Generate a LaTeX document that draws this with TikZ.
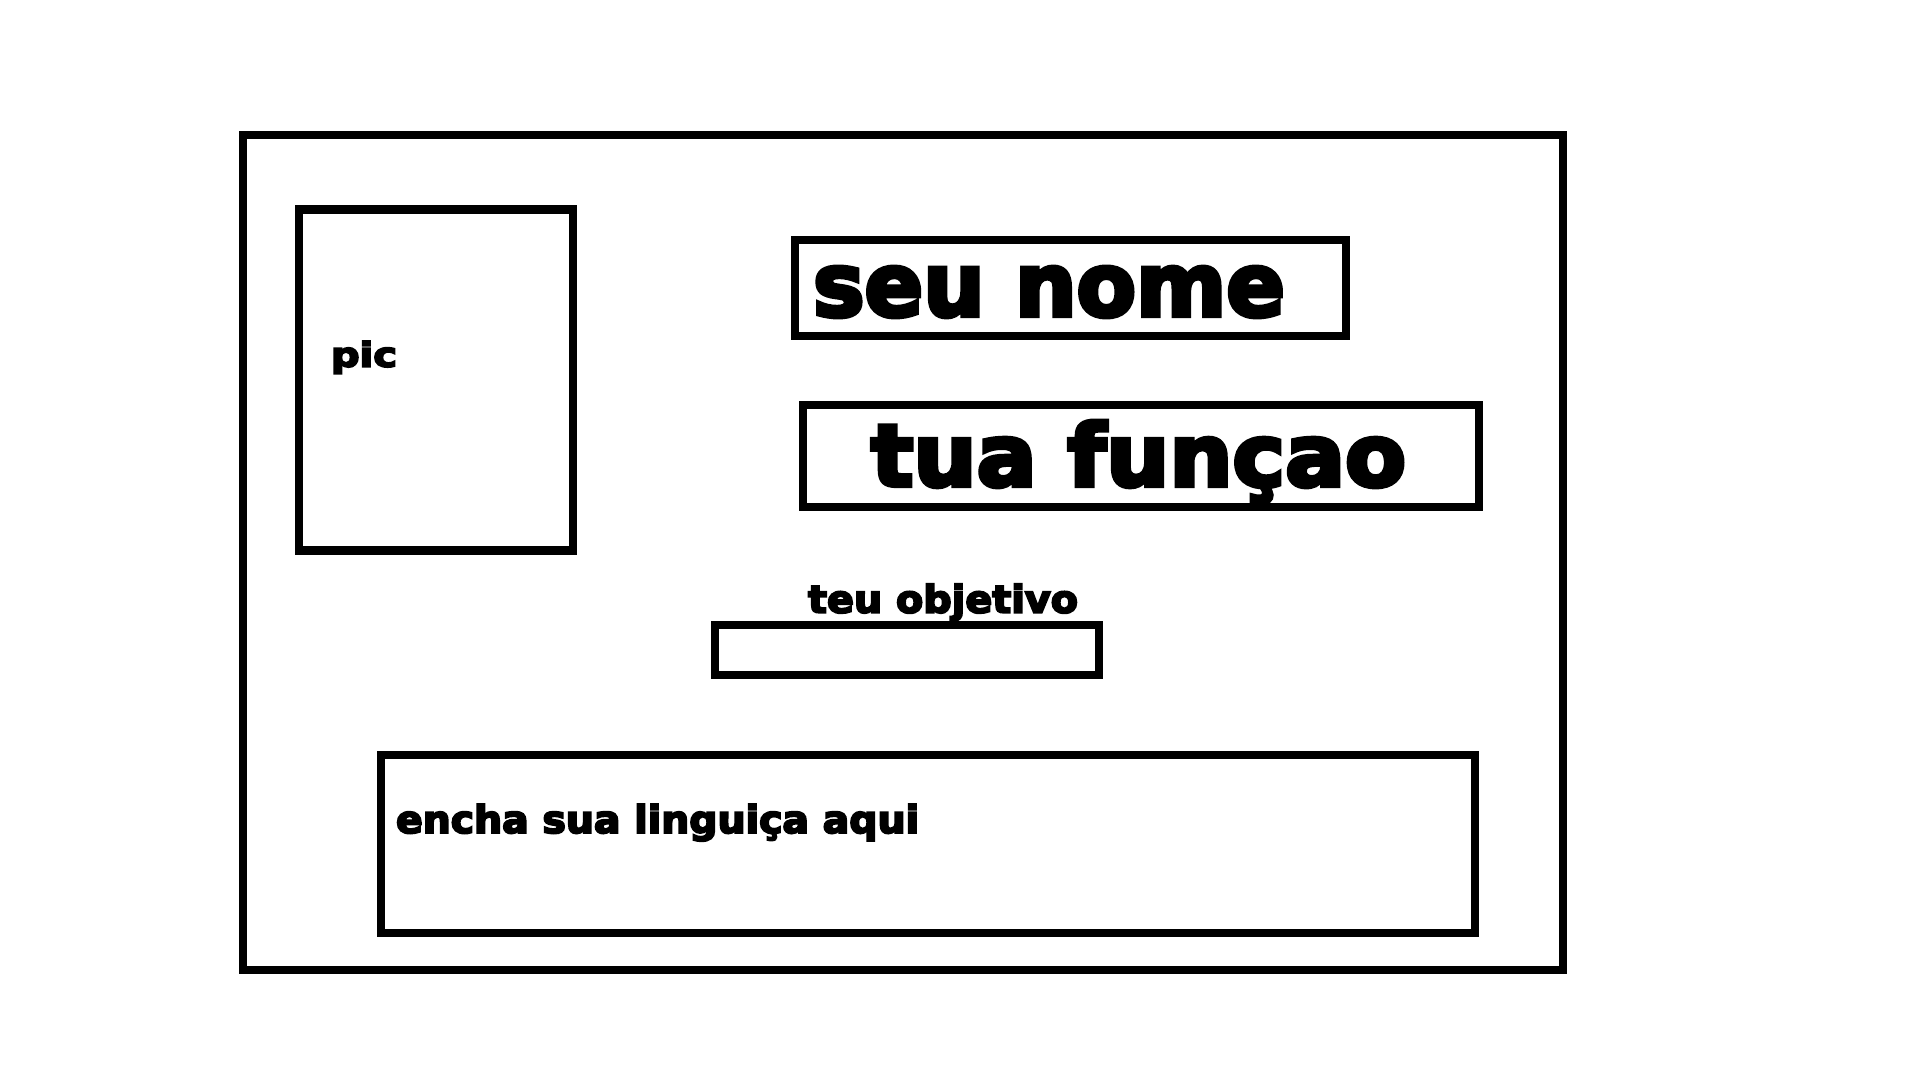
\documentclass[tikz,border=0pt]{standalone}
\usepackage{fontspec}
\usepackage{graphicx}
\newfontfamily\heavy{DejaVu Sans}[UprightFont=* Bold, FakeBold=5]
\begin{document}
\begin{tikzpicture}[x=1pt,y=-1pt,
  box/.style={draw=black, line width=8.5pt, inner sep=0pt, outer sep=0pt, rectangle, fill=none},
  lbl/.style={inner sep=0pt, outer sep=0pt, anchor=base west, text=black}]
\useasboundingbox[fill=white] (0,0) rectangle (1920,1080);
% boxes
\node[box, minimum width=1320pt, minimum height=835pt] (card) at (903,552.5) {};
\node[box, minimum width=274pt, minimum height=341pt] (pic) at (436,380) {};
\node[box, minimum width=551pt, minimum height=96pt] (nome) at (1070.5,288) {};
\node[box, minimum width=676pt, minimum height=102pt] (funcao) at (1141,456) {};
\node[box, minimum width=384pt, minimum height=50pt] (objetivo) at (907,650) {};
\node[box, minimum width=1094pt, minimum height=178pt] (linguica) at (928,844) {};
% labels
\node[lbl] (tpic) at (331,366.7) {\resizebox{66pt}{\height}{\heavy\fontsize{34}{34}\selectfont pic}};
\node[lbl] (tnome) at (813,316) {\resizebox{472pt}{\height}{\heavy\fontsize{88}{88}\selectfont seu nome}};
\node[lbl] (tfuncao) at (871,486) {\resizebox{535pt}{\height}{\heavy\fontsize{86}{86}\selectfont tua fun\c{c}ao}};
\node[lbl] (tobj) at (808,612.7) {\resizebox{270pt}{\height}{\heavy\fontsize{38}{38}\selectfont teu objetivo}};
\node[lbl] (tling) at (396,833) {\resizebox{523pt}{\height}{\heavy\fontsize{38}{38}\selectfont encha sua lingui\c{c}a aqui}};
\end{tikzpicture}
\end{document}
